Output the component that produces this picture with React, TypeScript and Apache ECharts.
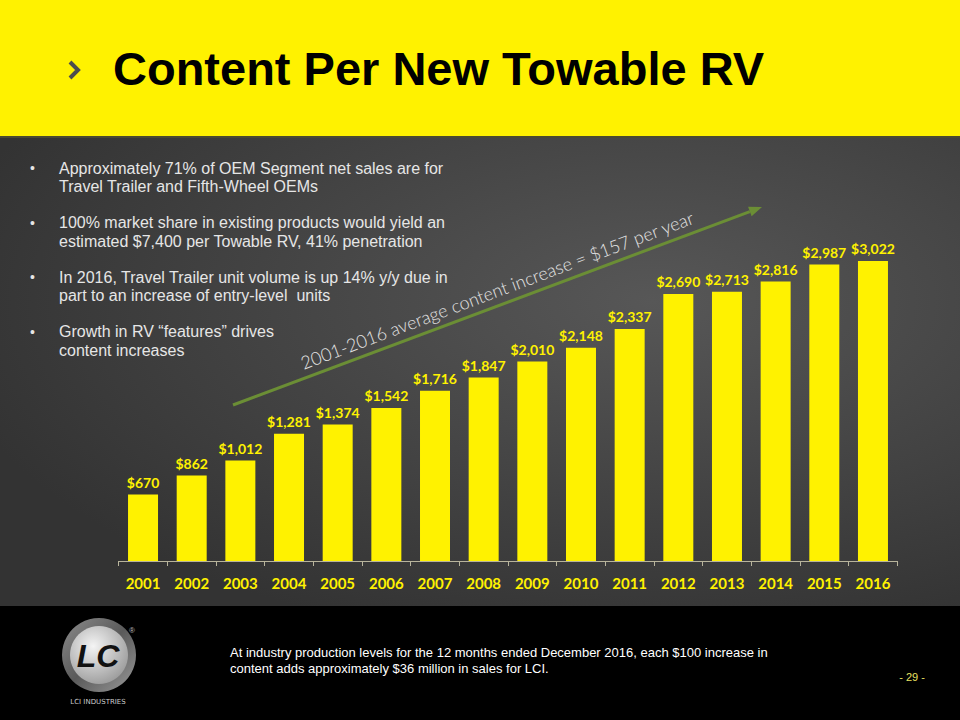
import React, { useEffect, useRef } from "react";
import * as echarts from "echarts";

const years = ["2001", "2002", "2003", "2004", "2005", "2006", "2007", "2008", "2009", "2010", "2011", "2012", "2013", "2014", "2015", "2016"];
const contentPerRV = [670, 862, 1012, 1281, 1374, 1542, 1716, 1847, 2010, 2148, 2337, 2690, 2713, 2816, 2987, 3022];

const titleText = "Content Per New Towable RV";
const bullets = [
  ["Approximately 71% of OEM Segment net sales are for", "Travel Trailer and Fifth-Wheel OEMs"],
  ["100% market share in existing products would yield an", "estimated $7,400 per Towable RV, 41% penetration"],
  ["In 2016, Travel Trailer unit volume is up 14% y/y due in", "part to an increase of entry-level  units"],
  ["Growth in RV \u201cfeatures\u201d drives", "content increases"],
];
const trendText = "2001-2016 average content increase = $157 per year";
const footnote = [
  "At industry production levels for the 12 months ended December 2016, each $100 increase in",
  "content adds approximately $36 million in sales for LCI.",
];
const pageNo = "- 29 -";
const logoName = "LCI INDUSTRIES";

export default function App() {
  const ref = useRef<HTMLDivElement>(null);

  useEffect(() => {
    if (!ref.current) return;
    const chart = echarts.init(ref.current, null, { renderer: "svg" });

    const arrowStart = [233, 405];
    const arrowEnd = [762, 207];
    const dx = arrowEnd[0] - arrowStart[0];
    const dy = arrowEnd[1] - arrowStart[1];
    const len = Math.sqrt(dx * dx + dy * dy);
    const ux = dx / len;
    const uy = dy / len;
    const headLen = 13;
    const headHalf = 5;
    const bx = arrowEnd[0] - headLen * ux;
    const by = arrowEnd[1] - headLen * uy;
    const angle = Math.atan2(-dy, dx);

    const graphics: any[] = [];
    // backgrounds
    graphics.push({
      type: "rect", z: -10, silent: true,
      shape: { x: 0, y: 0, width: 960, height: 137 },
      style: { fill: "#FFF200" },
    });
    graphics.push({
      type: "rect", z: -10, silent: true,
      shape: { x: 0, y: 137, width: 960, height: 469 },
      style: {
        fill: {
          type: "radial", x: 0.68, y: 0.35, r: 0.75,
          colorStops: [
            { offset: 0, color: "#575757" },
            { offset: 1, color: "#333333" },
          ],
        },
      },
    });
    graphics.push({
      type: "rect", z: -9, silent: true,
      shape: { x: 0, y: 136, width: 960, height: 2 },
      style: { fill: "#4a4a30" },
    });
    graphics.push({
      type: "rect", z: -10, silent: true,
      shape: { x: 0, y: 606, width: 960, height: 114 },
      style: { fill: "#000000" },
    });
    // title
    graphics.push({
      type: "polyline", silent: true,
      shape: { points: [[70, 62], [78, 70], [70, 78]] },
      style: { stroke: "#4d4d4d", lineWidth: 4, fill: null },
    });
    graphics.push({
      type: "text", silent: true, x: 113, y: 68,
      style: {
        text: titleText, fill: "#000000",
        font: "bold 47px 'Liberation Sans', Arial, sans-serif",
        textAlign: "left", textVerticalAlign: "middle",
      },
    });
    // bullets
    const bulletTop = 168;
    const bulletGap = 54.5;
    const lineGap = 18.8;
    bullets.forEach((lines, i) => {
      const y0 = bulletTop + i * bulletGap;
      graphics.push({
        type: "text", silent: true, x: 30, y: y0,
        style: { text: "\u2022", fill: "#e6e6e6", font: "14px 'Liberation Sans', Arial, sans-serif", textAlign: "left", textVerticalAlign: "middle" },
      });
      lines.forEach((ln, j) => {
        graphics.push({
          type: "text", silent: true, x: 59, y: y0 + j * lineGap,
          style: { text: ln, fill: "#e6e6e6", font: "16px 'Liberation Sans', Arial, sans-serif", textAlign: "left", textVerticalAlign: "middle" },
        });
      });
    });
    // trend arrow
    graphics.push({
      type: "line", silent: true,
      shape: { x1: arrowStart[0], y1: arrowStart[1], x2: bx, y2: by },
      style: { stroke: "#6b8e35", lineWidth: 3 },
    });
    graphics.push({
      type: "polygon", silent: true,
      shape: {
        points: [
          [arrowEnd[0], arrowEnd[1]],
          [bx - headHalf * uy, by + headHalf * ux],
          [bx + headHalf * uy, by - headHalf * ux],
        ],
      },
      style: { fill: "#6b8e35" },
    });
    graphics.push({
      type: "text", silent: true, x: 497, y: 290, rotation: angle,
      style: {
        text: trendText, fill: "#e4e4e4",
        font: "300 18px Lato, 'Open Sans', sans-serif",
        textAlign: "center", textVerticalAlign: "middle",
      },
    });
    // footer
    footnote.forEach((ln, j) => {
      graphics.push({
        type: "text", silent: true, x: 230, y: 652 + j * 16,
        style: { text: ln, fill: "#ffffff", font: "13px 'Liberation Sans', Arial, sans-serif", textAlign: "left", textVerticalAlign: "middle" },
      });
    });
    graphics.push({
      type: "text", silent: true, x: 912, y: 677,
      style: { text: pageNo, fill: "#e8e060", font: "11px 'Liberation Sans', Arial, sans-serif", textAlign: "center", textVerticalAlign: "middle" },
    });
    // logo
    graphics.push({
      type: "circle", silent: true,
      shape: { cx: 99, cy: 655, r: 37 },
      style: {
        fill: {
          type: "linear", x: 0, y: 0, x2: 1, y2: 1,
          colorStops: [
            { offset: 0, color: "#8c8c8c" },
            { offset: 0.5, color: "#5a5a5a" },
            { offset: 1, color: "#9a9a9a" },
          ],
        },
      },
    });
    graphics.push({
      type: "circle", silent: true,
      shape: { cx: 99, cy: 655, r: 29 },
      style: {
        fill: {
          type: "radial", x: 0.4, y: 0.35, r: 0.8,
          colorStops: [
            { offset: 0, color: "#f4f4f4" },
            { offset: 1, color: "#8e8e8e" },
          ],
        },
      },
    });
    graphics.push({
      type: "text", silent: true, x: 98, y: 656,
      style: { text: "LC", fill: "#111111", font: "italic bold 32px 'Liberation Sans', Arial, sans-serif", textAlign: "center", textVerticalAlign: "middle" },
    });
    graphics.push({
      type: "text", silent: true, x: 132, y: 630,
      style: { text: "\u00ae", fill: "#bbbbbb", font: "8px 'Liberation Sans', Arial, sans-serif", textAlign: "center", textVerticalAlign: "middle" },
    });
    graphics.push({
      type: "text", silent: true, x: 98, y: 702,
      style: { text: logoName, fill: "#cccccc", font: "7px 'DejaVu Sans', sans-serif", textAlign: "center", textVerticalAlign: "middle" },
    });

    chart.setOption({
      animation: false,
      graphic: { elements: graphics },
      grid: { left: 118.7, right: 62.7, top: 213.5, bottom: 159, containLabel: false },
      xAxis: {
        type: "category",
        data: years,
        axisLine: { show: true, lineStyle: { color: "#b8b49c", width: 1 } },
        axisTick: { show: true, length: 5, lineStyle: { color: "#b8b49c" } },
        axisLabel: {
          color: "#FFF200", fontWeight: "bold", fontSize: 15,
          fontFamily: "Lato, 'Open Sans', sans-serif", margin: 14,
        },
      },
      yAxis: {
        type: "value", min: 0, max: 3500, show: false,
        splitLine: { show: false },
      },
      series: [
        {
          type: "bar",
          data: contentPerRV,
          barWidth: 30,
          itemStyle: { color: "#FFF200" },
          label: {
            show: true, position: "top", distance: 5,
            color: "#FFF200", fontWeight: "bold", fontSize: 14,
            fontFamily: "Lato, 'Open Sans', sans-serif",
            formatter: (p: any) => "$" + Number(p.value).toLocaleString("en-US"),
          },
        },
      ],
    });

    return () => chart.dispose();
  }, []);

  return (
    <div
      ref={ref}
      style={{ position: "absolute", left: 0, top: 0, width: 960, height: 720 }}
    />
  );
}
